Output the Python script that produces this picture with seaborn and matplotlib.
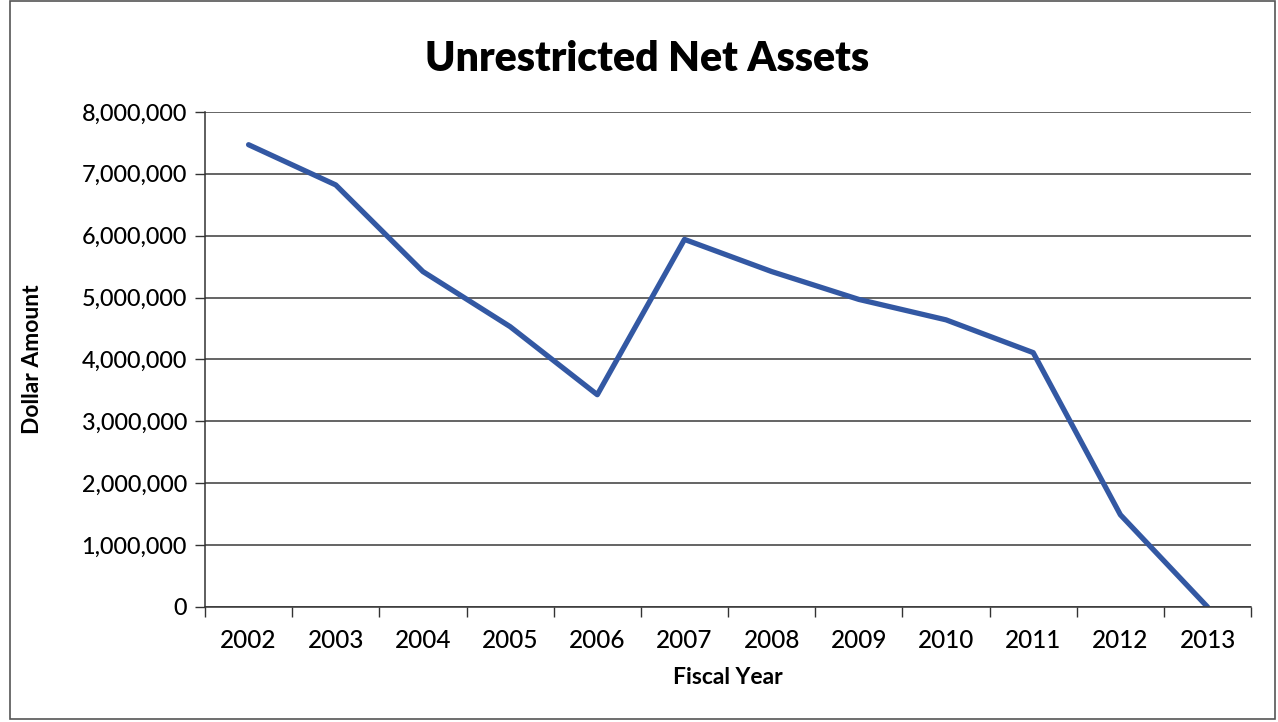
import pandas as pd
import matplotlib.pyplot as plt
import seaborn as sns
from matplotlib.ticker import FuncFormatter, FixedLocator
from matplotlib.patches import Rectangle

# Dados
anos = ['2002', '2003', '2004', '2005', '2006', '2007',
        '2008', '2009', '2010', '2011', '2012', '2013']
valores = [7470000, 6820000, 5420000, 4530000, 3430000, 5940000,
           5420000, 4970000, 4640000, 4110000, 1490000, 0]

df = pd.DataFrame({'Fiscal Year': anos, 'Dollar Amount': valores})

sns.set_style("white")
plt.rcParams['font.family'] = ['Lato', 'DejaVu Sans']

fig = plt.figure(figsize=(12.78, 7.22), dpi=100)
ax = fig.add_axes([0.1604, 0.1593, 0.8186, 0.6857])

sns.lineplot(data=df, x='Fiscal Year', y='Dollar Amount', ax=ax,
             color='#3358A3', linewidth=3.8, sort=False)

ax.set_xlim(-0.5, len(anos) - 0.5)
ax.set_ylim(0, 8000000)
ax.set_yticks(range(0, 8000001, 1000000))
ax.yaxis.set_major_formatter(FuncFormatter(lambda v, p: format(int(v), ',')))
ax.grid(axis='y', color='#3a3a3a', linewidth=1.1)
ax.set_axisbelow(True)

# marcas entre categorias no eixo x
ax.xaxis.set_minor_locator(FixedLocator([i - 0.5 for i in range(len(anos) + 1)]))
ax.tick_params(axis='x', which='major', length=0, pad=16, labelsize=17.5, labelcolor='black')
ax.tick_params(axis='x', which='minor', length=7, width=1, color='#333333', direction='out', bottom=True)
ax.tick_params(axis='y', which='major', length=7, width=1, color='#333333', direction='out',
               left=True, pad=6, labelsize=16.8, labelcolor='black')
for lbl in ax.get_xticklabels() + ax.get_yticklabels():
    lbl.set_fontweight('medium')

for lado in ['top', 'right']:
    ax.spines[lado].set_visible(False)
for lado in ['left', 'bottom']:
    ax.spines[lado].set_color('#333333')
    ax.spines[lado].set_linewidth(1.1)

ax.set_xlabel('Fiscal Year', fontsize=16.5, fontweight='bold', labelpad=11, color='black')
ax.set_ylabel('Dollar Amount', fontsize=16.5, fontweight='bold', labelpad=28, color='black')
fig.text(0.506, 0.918, 'Unrestricted Net Assets', ha='center', va='center',
         fontsize=29.5, fontweight='heavy', color='black')

# moldura externa
fig.patches.append(Rectangle((0.008, 0.004), 0.99, 0.995, transform=fig.transFigure,
                             fill=False, edgecolor='#555555', linewidth=1.2))

plt.savefig('out.png', dpi=100)
